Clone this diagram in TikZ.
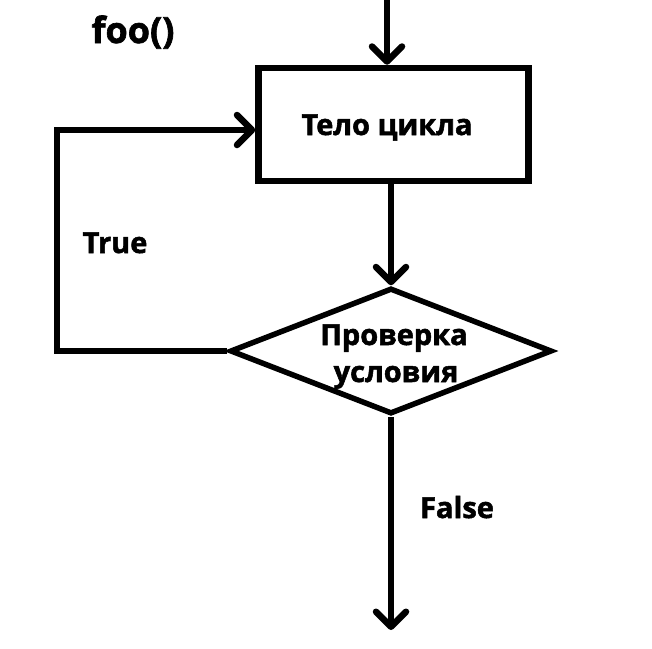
\documentclass[tikz,border=0pt]{standalone}
\usepackage{fontspec}
\setmainfont{Open Sans}[BoldFeatures={FakeBold=1.8}]
\usetikzlibrary{arrows.meta,shapes.geometric}
\begin{document}
\begin{tikzpicture}[x=1pt,y=-1pt,
  conn/.style={line width=6.5pt,-{Straight Barb[length=15pt,width=30pt,line width=6.5pt,round]}},
  lbl/.style={font=\fontsize{29}{34}\selectfont\bfseries,inner sep=0pt,anchor=base},
  every node/.style={inner sep=0pt}]
\useasboundingbox (0,0) rectangle (652,648);
\fill[white] (0,0) rectangle (652,648);
\node[lbl,font=\fontsize{36}{40}\selectfont\bfseries] (foo) at (133,43) {foo()};
\coordinate (top) at (387,-5);
\node[draw,line width=6.5pt,minimum width=270pt,minimum height=113pt] (body) at (393.5,124.5) {};
\node[lbl] (bodyt) at (387,135) {Тело цикла};
\node[draw,line width=5.5pt,diamond,minimum width=322pt,minimum height=126pt,aspect=2.6] (cond) at (391,351) {};
\node[lbl] (condt1) at (394,345) {Проверка};
\node[lbl] (condt2) at (396,382) {условия};
\coordinate (loopA) at (57,351);
\coordinate (loopB) at (57,130);
\coordinate (end) at (391,630);
\node[lbl] (true) at (115,253) {True};
\node[lbl] (false) at (457,518) {False};
\draw[conn] (top) -- (body.north -| top);
\draw[conn] (body.south -| cond.north) -- (cond.north);
\draw[conn] (cond.west) -- (loopA) -- (loopB) -- (loopB -| body.west);
\draw[conn] (cond.south) -- (end);
\end{tikzpicture}
\end{document}
